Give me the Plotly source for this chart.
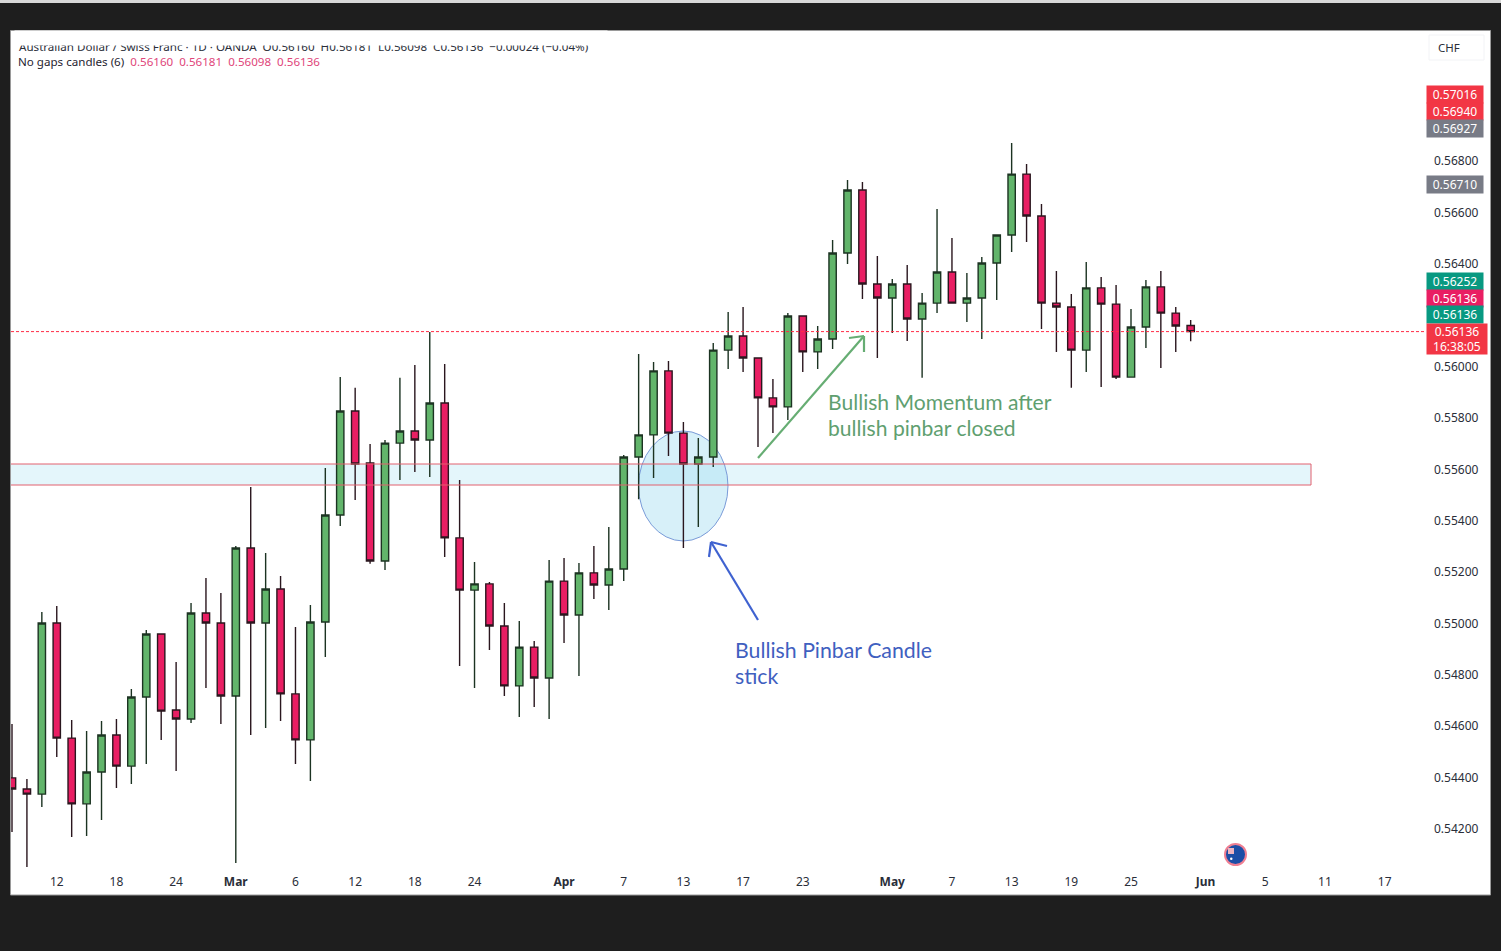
import plotly.graph_objects as go

# Prices in 1e-5 units (pipettes)
open_e5 = [54399,54356,54336,55002,54554,54298,54422,54566,54445,54714,54959,54663,54628,55041,55002,54718,55294,55002,55134,54726,
           54547,55006,55422,55827,55625,55243,55702,55749,55714,55858,55333,55130,55154,54990,54757,54908,54788,55165,55033,55197,
           55150,55212,55648,55734,55983,55741,55621,55648,56064,56119,56033,55878,55843,56197,56057,56107,56442,56687,56321,56267,
           56321,56185,56247,56368,56247,56267,56403,56512,56749,56586,56247,56232,56064,56306,56243,55959,56154,56310,56208,56160]
high_e5 = [54609,54395,55045,55068,54624,54582,54620,54628,54745,54975,54959,54850,55080,55177,55119,55302,55531,55274,55185,54986,
           55072,55605,55959,55917,55699,55714,55956,56006,56134,56010,55558,55239,55161,55080,55010,54932,55247,55255,55235,55302,
           55376,55656,56049,56018,56022,55784,55722,56092,56212,56232,56033,55952,56208,56197,56158,56493,56726,56718,56430,56341,
           56395,56286,56613,56500,56364,56426,56512,56870,56788,56633,56372,56282,56407,56349,56317,56224,56337,56372,56232,56181]
low_e5 = [54188,54052,54286,54480,54169,54173,54235,54360,54375,54453,54547,54426,54613,54749,54609,54068,54566,54593,54620,54453,
          54387,54870,55379,55481,55232,55208,55558,55590,55570,55259,54835,54749,54897,54718,54636,54675,54628,54924,54796,55095,
          55052,55165,55484,55566,55652,55294,55376,55609,55990,55979,55687,55741,55792,55979,55990,56068,56399,56263,56033,56131,
          56099,55956,56208,56247,56173,56107,56259,56446,56485,56146,56057,55917,55979,55920,55952,55956,56072,55994,56057,56098]
close_e5 = [54356,54336,55002,54554,54298,54422,54566,54445,54714,54959,54659,54628,55041,55002,54718,55294,55002,55134,54726,54547,
            55006,55422,55827,55621,55243,55702,55749,55714,55858,55333,55130,55154,54990,54757,54908,54788,55165,55033,55197,55150,
            55212,55648,55734,55983,55741,55621,55648,56064,56119,56033,55878,55843,56197,56057,56107,56442,56687,56321,56267,56321,
            56185,56247,56368,56247,56267,56403,56512,56749,56586,56247,56232,56064,56306,56243,55959,56154,56310,56208,56158,56136]
last_price = 0.56136

x_tick_index = [3,7,11,15,19,23,27,31,37,41,45,49,53,59,63,67,71,75,80,84,88,92]
x_tick_text = ["12","18","24","<b>Mar</b>","6","12","18","24","<b>Apr</b>","7","13","17","23","<b>May</b>","7","13","19","25","<b>Jun</b>","5","11","17"]
y_tick_values = [0.542,0.544,0.546,0.548,0.550,0.552,0.554,0.556,0.558,0.560,0.564,0.566,0.568]

tag_text = ["0.57016","0.56940","0.56927","0.56710","0.56252","0.56136","0.56136"]
tag_color = ["#f23645","#f23645","#787b86","#787b86","#089981","#e91e63","#089981"]
tag_px = [94.5,111.5,128.5,184.5,281,298,315]

legend_values = ["0.56160","0.56181","0.56098","0.56136"]

W, H = 1501, 951
L, R, T, B = 11, 1425, 31, 870
BG = "#1e1e1e"
FONT = "Noto Sans"

def xd(px): return (px - 12) / 14.92
def yd(py): return (57426.6 - 3.892 * py) / 1e5
def xp(px): return (px - L) / (R - L)
def yp(py): return (B - py) / (B - T)

x = list(range(len(open_e5)))
fig = go.Figure(go.Candlestick(
    x=x,
    open=[v / 1e5 for v in open_e5], high=[v / 1e5 for v in high_e5],
    low=[v / 1e5 for v in low_e5], close=[v / 1e5 for v in close_e5],
    increasing=dict(fillcolor="#62b56b", line=dict(color="#1c3322", width=1.4)),
    decreasing=dict(fillcolor="#e91e63", line=dict(color="#2a161e", width=1.4)),
    whiskerwidth=0, showlegend=False, hoverinfo="skip"))
fig.add_trace(go.Scatter(x=[xd(L), xd(R)], y=[last_price, last_price], mode="lines",
                         line=dict(color="#ff2d46", width=1, dash="3px,2px"),
                         showlegend=False, hoverinfo="skip"))

shapes = [
    dict(type="rect", xref="paper", yref="paper", x0=xp(10.5), x1=xp(1490.5), y0=yp(895), y1=yp(30.5),
         fillcolor="white", line=dict(color="#9a9a9a", width=1), layer="below"),
    dict(type="rect", xref="paper", yref="paper", x0=xp(0), x1=xp(1501), y0=yp(3), y1=yp(0),
         fillcolor="#d8d8d8", line=dict(width=0), layer="below"),
    dict(type="rect", xref="paper", yref="paper", x0=xp(1429), x1=xp(1484), y0=yp(60), y1=yp(35),
         fillcolor="white", line=dict(color="#f2f3f6", width=1), layer="below"),
    # support zone fill
    dict(type="rect", x0=xd(0), x1=xd(1311), y0=yd(485), y1=yd(464),
         fillcolor="#e4f6fb", line=dict(width=0), layer="below"),
    # pinbar ellipse
    dict(type="circle", x0=xd(638.5), x1=xd(728), y0=yd(541), y1=yd(431),
         fillcolor="rgba(160,220,240,0.42)", line=dict(color="#7a9bd8", width=1), layer="below"),
    # support zone outline
    dict(type="rect", x0=xd(0), x1=xd(1311), y0=yd(485), y1=yd(464),
         fillcolor="rgba(0,0,0,0)", line=dict(color="#e2606f", width=1), layer="above"),
    # green arrow
    dict(type="line", x0=xd(758), x1=xd(864), y0=yd(458), y1=yd(336), line=dict(color="#66ad73", width=2.2)),
    dict(type="line", x0=xd(849), x1=xd(864), y0=yd(338), y1=yd(336), line=dict(color="#66ad73", width=2.2)),
    dict(type="line", x0=xd(864), x1=xd(864), y0=yd(352), y1=yd(336), line=dict(color="#66ad73", width=2.2)),
    # blue arrow
    dict(type="line", x0=xd(758), x1=xd(711), y0=yd(620), y1=yd(542), line=dict(color="#3f62d0", width=2.2)),
    dict(type="line", x0=xd(727), x1=xd(711), y0=yd(546), y1=yd(542), line=dict(color="#3f62d0", width=2.2)),
    dict(type="line", x0=xd(709), x1=xd(711), y0=yd(557), y1=yd(542), line=dict(color="#3f62d0", width=2.2)),
    # flag event marker
    dict(type="circle", x0=xd(1225), x1=xd(1246), y0=yd(865), y1=yd(844),
         fillcolor="#1c4ea6", line=dict(color="#ef7f92", width=2)),
    dict(type="rect", x0=xd(1228), x1=xd(1234), y0=yd(854), y1=yd(848),
         fillcolor="#eeb4c0", line=dict(width=0)),
    dict(type="circle", x0=xd(1230), x1=xd(1232.5), y0=yd(860), y1=yd(857.5),
         fillcolor="white", line=dict(width=0)),
]

def text(px, py, s, color, size, anchor="left", **kw):
    return dict(xref="paper", yref="paper", x=xp(px), y=yp(py), text=s, showarrow=False,
                xanchor=anchor, yanchor="middle", font=dict(color=color, size=size, family=kw.pop("family", FONT)), **kw)

ann = []
ann.append(text(17, 46.5, "Australian Dollar / Swiss Franc · 1D · OANDA &nbsp;O0.56160 &nbsp;H0.56181 &nbsp;L0.56098 &nbsp;C0.56136 &nbsp;−0.00024 (−0.04%)", "#2a2e39", 11.6))
ann.append(dict(xref="paper", yref="paper", x=xp(14), y=yp(38), text=" ", showarrow=False, xanchor="left", yanchor="middle",
                width=590, height=12, bgcolor="white", font=dict(size=10)))
ann.append(text(16, 61.5, "No gaps candles (6) &nbsp;" + "&nbsp;&nbsp;".join(f'<span style="color:#e0457a">{v}</span>' for v in legend_values), "#1f2430", 11.6))
ann.append(text(1449, 47.5, "CHF", "#2a2e39", 11.5, "center"))
for t, c, p in zip(tag_text, tag_color, tag_px):
    ann.append(dict(xref="paper", yref="paper", x=xp(1426), y=yp(p), xanchor="left", yanchor="middle", showarrow=False,
                    text=t, width=56, height=17, bgcolor=c, borderpad=0,
                    font=dict(color="white", size=12, family=FONT)))
ann.append(dict(xref="paper", yref="paper", x=xp(1426), y=yp(339), xanchor="left", yanchor="middle", showarrow=False,
                text="0.56136<br>16:38:05", width=60, height=30, bgcolor="#f23645", borderpad=0,
                font=dict(color="white", size=12, family=FONT)))
GREEN_T, BLUE_T = "#5f9f70", "#3f60c0"
ann.append(text(826, 401.5, "Bullish Momentum after", GREEN_T, 21.1, family="Lato"))
ann.append(text(826, 428, "bullish pinbar closed", GREEN_T, 21.1, family="Lato"))
ann.append(text(733, 650, "Bullish Pinbar Candle", BLUE_T, 21.3, family="Lato"))
ann.append(text(733, 676, "stick", BLUE_T, 21.3, family="Lato"))

fig.update_layout(
    width=W, height=H, margin=dict(l=L, r=W - R, t=T, b=H - B, pad=0),
    paper_bgcolor=BG, plot_bgcolor="rgba(0,0,0,0)", boxgap=0.3,
    shapes=shapes, annotations=ann, showlegend=False, hovermode=False,
    xaxis=dict(range=[xd(L), xd(R)], tickmode="array", tickvals=x_tick_index, ticktext=x_tick_text,
               showgrid=False, zeroline=False, showline=False, ticks="", rangeslider=dict(visible=False),
               tickfont=dict(family=FONT, size=12, color="#2a2e39"), ticklabelstandoff=3),
    yaxis=dict(range=[yd(B), yd(T)], side="right", tickmode="array", tickvals=y_tick_values,
               ticktext=[f"{v:.5f}" for v in y_tick_values], showgrid=False, zeroline=False, showline=False, ticks="",
               tickfont=dict(family=FONT, size=12, color="#2a2e39"), ticklabelstandoff=8),
)

fig.write_html("out.html", config=dict(displayModeBar=False),
               post_script='document.body.style.margin="0";document.body.style.background="#1e1e1e";document.body.style.overflow="hidden";')
